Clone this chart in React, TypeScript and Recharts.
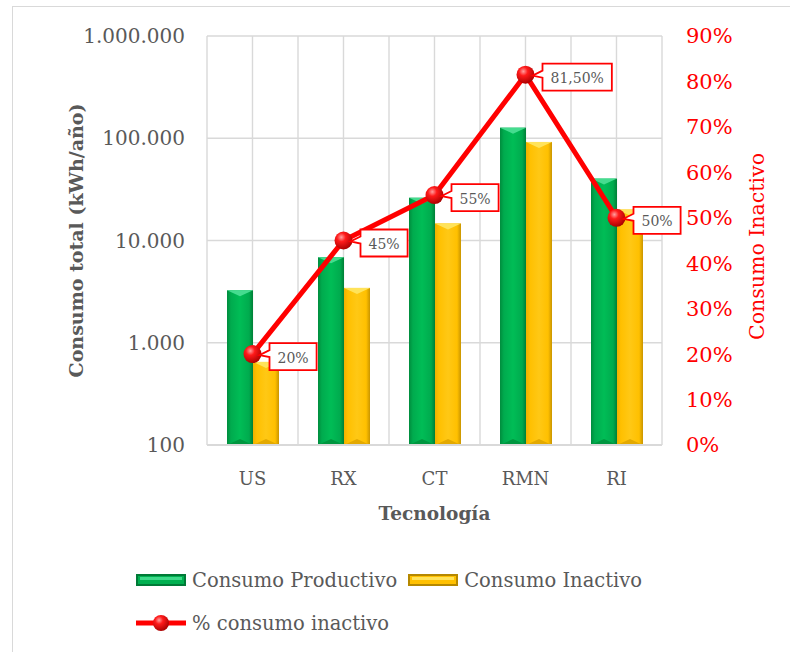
import { ComposedChart, Bar, Line, XAxis, YAxis, CartesianGrid, Legend, LabelList, Label } from 'recharts';

const categories = ['US', 'RX', 'CT', 'RMN', 'RI'];
const consumoProductivo = [3260, 6860, 26200, 127000, 40300];
const consumoInactivo = [650, 3440, 14700, 92000, 20100];
const pctInactivo = [20, 45, 55, 81.5, 50];
const leftTicks = [100, 1000, 10000, 100000, 1000000];
const rightTicks = [0, 10, 20, 30, 40, 50, 60, 70, 80, 90];

const data = categories.map((tec, i) => ({
  tec,
  productivo: consumoProductivo[i],
  inactivo: consumoInactivo[i],
  pct: pctInactivo[i],
}));

const FONT = '"DejaVu Serif", serif';
const GRAY = '#595959';
const RED = '#ff0000';
const GRID = '#d9d9d9';

const fmtThousands = (v: number) => String(v).replace(/\B(?=(\d{3})+(?!\d))/g, '.');
const fmtPct = (v: number) =>
  Number.isInteger(v) ? `${v}%` : `${v.toFixed(2).replace('.', ',')}%`;

// excel-ish bevelled column
const makeBevelBar = (grad: string, top: string, bottom: string) => (props: any) => {
  const { x, y, width, height } = props;
  if (!height || height <= 0) return null;
  const b = Math.min(6, height / 2);
  return (
    <g>
      <rect x={x} y={y} width={width} height={height} fill={`url(#${grad})`} />
      <polygon points={`${x},${y} ${x + width},${y} ${x + width / 2},${y + b}`} fill={top} />
      <polygon
        points={`${x},${y + height} ${x + width},${y + height} ${x + width / 2},${y + height - b}`}
        fill={bottom}
      />
    </g>
  );
};

const GreenBar = makeBevelBar('gGreen', '#45dc8f', '#00963f');
const YellowBar = makeBevelBar('gYellow', '#ffe35a', '#e3a900');

const Ball = (props: any) => {
  const { cx, cy } = props;
  if (cx == null || cy == null) return null;
  return <circle cx={cx} cy={cy} r={9} fill="url(#ball)" />;
};

const charW = (c: string) => (c === '%' ? 13.3 : c === ',' ? 4.45 : 8.9);

function Callout(props: any) {
  const { x, y, value } = props;
  if (x == null || y == null) return null;
  const text = fmtPct(Number(value));
  const w = [...text].reduce((s, c) => s + charW(c), 0) + 16;
  const h = 27;
  const bx = x + 17;
  const by = y - 11;
  const d = `M${bx},${by} H${bx + w} V${by + h} H${bx} V${by + 14} L${x + 7},${y + 1} L${bx},${by + 7} Z`;
  return (
    <g>
      <path d={d} fill="#fff" stroke={RED} strokeWidth={1.8} />
      <text
        x={bx + w / 2}
        y={by + h / 2 + 1}
        textAnchor="middle"
        dominantBaseline="central"
        fontFamily={FONT}
        fontSize={14}
        fill={GRAY}
      >
        {text}
      </text>
    </g>
  );
}

const halfCategoryLines = ({ offset }: any) => {
  const n = categories.length * 2;
  return Array.from({ length: n + 1 }, (_, k) => offset.left + (offset.width * k) / n);
};

function LegendBarIcon({ main, light, dark }: { main: string; light: string; dark: string }) {
  return (
    <svg width={50} height={12} style={{ display: 'block' }}>
      <rect x={0} y={0} width={50} height={12} fill={dark} />
      <rect x={2} y={2} width={46} height={8} fill={main} />
      <rect x={4} y={3} width={42} height={3} fill={light} />
    </svg>
  );
}

function LegendContent() {
  return (
    <div
      style={{
        height: 86,
        paddingLeft: 136,
        boxSizing: 'border-box',
        fontFamily: FONT,
        fontSize: 19.5,
        color: GRAY,
        whiteSpace: 'nowrap',
      }}
    >
      <div style={{ display: 'flex', alignItems: 'center', height: 40 }}>
        <LegendBarIcon main="#00b050" light="#3fd98a" dark="#007a37" />
        <span style={{ marginLeft: 6 }}>Consumo Productivo</span>
        <span style={{ marginLeft: 11 }}>
          <LegendBarIcon main="#ffc000" light="#ffe35a" dark="#b58800" />
        </span>
        <span style={{ marginLeft: 6 }}>Consumo Inactivo</span>
      </div>
      <div style={{ display: 'flex', alignItems: 'center', height: 46 }}>
        <svg width={50} height={20} style={{ display: 'block' }}>
          <defs>
            <radialGradient id="ballLegend" cx="38%" cy="32%" r="70%">
              <stop offset="0" stopColor="#ff9f9f" />
              <stop offset="0.35" stopColor="#ff1a1a" />
              <stop offset="1" stopColor="#a80000" />
            </radialGradient>
          </defs>
          <line x1={0} y1={10} x2={50} y2={10} stroke={RED} strokeWidth={5} />
          <circle cx={25} cy={10} r={8} fill="url(#ballLegend)" />
        </svg>
        <span style={{ marginLeft: 6 }}>% consumo inactivo</span>
      </div>
    </div>
  );
}

const LeftTitle = (props: any) => {
  const vb = props.viewBox || {};
  const cx = 76;
  const cy = vb.y + vb.height / 2;
  return (
    <text
      x={cx}
      y={cy}
      transform={`rotate(-90 ${cx} ${cy})`}
      textAnchor="middle"
      dominantBaseline="central"
      fontFamily={FONT}
      fontSize={19}
      fontWeight="bold"
      fill={GRAY}
    >
      Consumo total (kWh/año)
    </text>
  );
};

const RightTitle = (props: any) => {
  const vb = props.viewBox || {};
  const cx = vb.x + 95;
  const cy = vb.y + vb.height / 2 + 6;
  return (
    <text
      x={cx}
      y={cy}
      transform={`rotate(-90 ${cx} ${cy})`}
      textAnchor="middle"
      dominantBaseline="central"
      fontFamily={FONT}
      fontSize={20.5}
      fill={RED}
    >
      Consumo Inactivo
    </text>
  );
};

export default function App() {
  return (
    <div style={{ position: 'relative', width: 790, height: 652, overflow: 'hidden', background: '#fff' }}>
      <style>{'body{margin:0}'}</style>
      <div
        style={{
          position: 'absolute',
          left: 12,
          top: 6,
          width: 900,
          height: 800,
          border: `1.5px solid ${GRID}`,
        }}
      />
      <ComposedChart
        width={790}
        height={652}
        data={data}
        margin={{ top: 36, right: 0, left: 0, bottom: 6 }}
        barGap={0}
        style={{ position: 'absolute', left: 0, top: 0, fontFamily: FONT }}
      >
        <defs>
          <linearGradient id="gGreen" x1="0" y1="0" x2="1" y2="0">
            <stop offset="0" stopColor="#008c3d" />
            <stop offset="0.15" stopColor="#00ab4e" />
            <stop offset="0.5" stopColor="#00bd56" />
            <stop offset="0.85" stopColor="#00ab4e" />
            <stop offset="1" stopColor="#007f37" />
          </linearGradient>
          <linearGradient id="gYellow" x1="0" y1="0" x2="1" y2="0">
            <stop offset="0" stopColor="#f0b000" />
            <stop offset="0.15" stopColor="#ffc000" />
            <stop offset="0.5" stopColor="#ffc815" />
            <stop offset="0.85" stopColor="#ffc000" />
            <stop offset="1" stopColor="#c99500" />
          </linearGradient>
          <radialGradient id="ball" cx="38%" cy="32%" r="70%">
            <stop offset="0" stopColor="#ff9f9f" />
            <stop offset="0.35" stopColor="#ff1a1a" />
            <stop offset="1" stopColor="#a80000" />
          </radialGradient>
        </defs>
        <CartesianGrid
          yAxisId="left"
          stroke={GRID}
          strokeWidth={1.4}
          verticalCoordinatesGenerator={halfCategoryLines}
        />
        <XAxis
          dataKey="tec"
          height={115}
          tickSize={0}
          tickMargin={27}
          axisLine={{ stroke: GRID, strokeWidth: 2 }}
          tickLine={false}
          tick={{ fill: GRAY, fontSize: 18, fontFamily: FONT }}
        >
          <Label
            value="Tecnología"
            position="insideTop"
            offset={62}
            fill={GRAY}
            fontSize={18.5}
            fontWeight="bold"
            fontFamily={FONT}
          />
        </XAxis>
        <YAxis
          yAxisId="left"
          scale="log"
          domain={[100, 1000000]}
          ticks={leftTicks}
          allowDataOverflow
          width={207}
          tickSize={0}
          tickMargin={22}
          axisLine={false}
          tickLine={false}
          tickFormatter={fmtThousands}
          tick={{ fill: GRAY, fontSize: 20, fontFamily: FONT }}
        >
          <Label content={LeftTitle} />
        </YAxis>
        <YAxis
          yAxisId="right"
          orientation="right"
          domain={[0, 90]}
          ticks={rightTicks}
          width={128}
          tickSize={0}
          tickMargin={24}
          axisLine={false}
          tickLine={false}
          tickFormatter={(v: number) => `${v}%`}
          tick={{ fill: RED, fontSize: 21, fontFamily: FONT, textAnchor: 'start' }}
        >
          <Label content={RightTitle} />
        </YAxis>
        <Legend verticalAlign="bottom" content={<LegendContent />} />
        <Bar
          yAxisId="left"
          dataKey="productivo"
          name="Consumo Productivo"
          barSize={26}
          shape={GreenBar}
          isAnimationActive={false}
        />
        <Bar
          yAxisId="left"
          dataKey="inactivo"
          name="Consumo Inactivo"
          barSize={26}
          shape={YellowBar}
          isAnimationActive={false}
        />
        <Line
          yAxisId="right"
          dataKey="pct"
          name="% consumo inactivo"
          stroke={RED}
          strokeWidth={5}
          dot={Ball}
          activeDot={false}
          isAnimationActive={false}
        >
          <LabelList dataKey="pct" content={Callout} />
        </Line>
      </ComposedChart>
    </div>
  );
}
